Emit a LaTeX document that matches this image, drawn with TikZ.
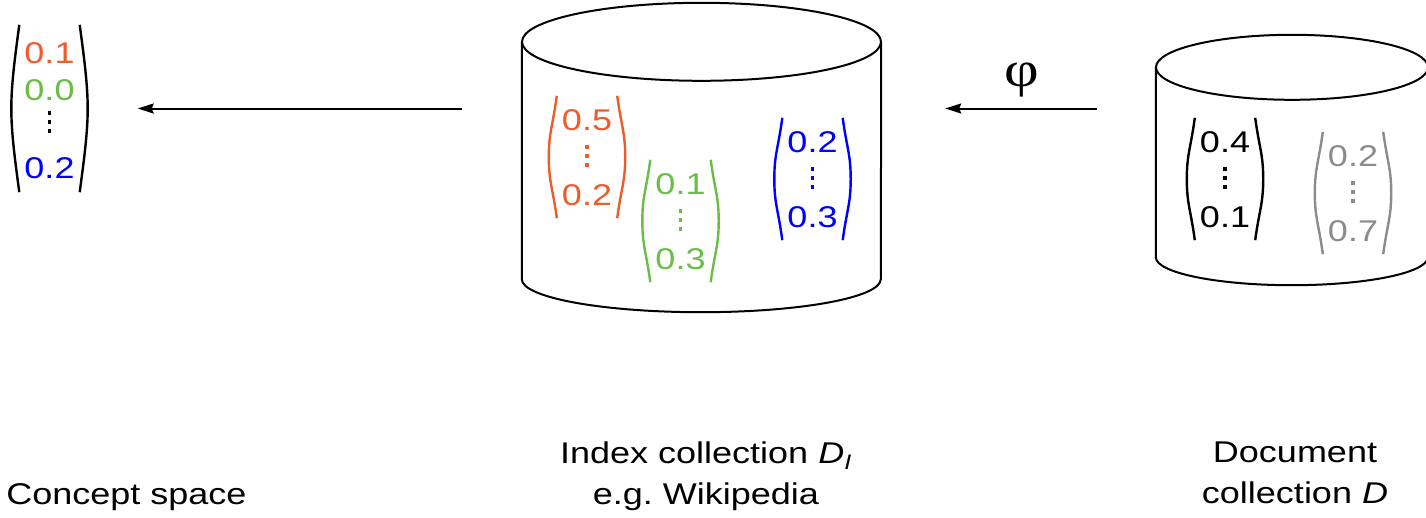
\documentclass[tikz,border=0pt]{standalone}
\usepackage{fontspec}
\setmainfont{Liberation Sans}[FakeStretch=1.2]
\newfontfamily\phifont{Liberation Serif}[FakeStretch=1.2]
\usetikzlibrary{arrows.meta,calc}

\definecolor{vorange}{HTML}{EF5B2B}
\definecolor{vgreen}{HTML}{6ABD45}
\definecolor{vblue}{HTML}{0000FF}
\definecolor{vgray}{HTML}{8C8C8C}

\tikzset{
  lab/.style={font=\fontsize{30}{41}\selectfont, inner sep=0pt, align=center},
  num/.style={font=\fontsize{30}{34}\selectfont, inner sep=0pt},
  vecbox/.style={inner sep=0pt, minimum width=60pt, draw=none},
  brk/.style={line width=2.4pt},
  cyl/.style={line width=2pt},
  conn/.style={line width=2pt, -{Stealth[length=16pt,width=10pt,inset=2pt]}},
  dotcol/.pic={
    \fill (-1.75,-10.75) rectangle (1.75,-7.25);
    \fill (-1.75,-1.75) rectangle (1.75,1.75);
    \fill (-1.75,7.25) rectangle (1.75,10.75);
  }
}

% curved brackets round a vector box
\newcommand\drawbrackets[2]{%
  \draw[brk,#2] (#1.north west) .. controls +(-4,30) and +(0,-25) .. ([xshift=-8pt]#1.west)
    .. controls +(0,25) and +(-4,-30) .. (#1.south west);
  \draw[brk,#2] (#1.north east) .. controls +(4,30) and +(0,-25) .. ([xshift=8pt]#1.east)
    .. controls +(0,25) and +(4,-30) .. (#1.south east);
}

% three-row column vector: name, centre, colour, first entry, last entry
\newcommand\colvec[5]{%
  \node[vecbox, minimum height=122pt] (#1) at (#2) {};
  \node[num, text=#3] (#1-a) at ([yshift=-24pt]#1.north) {#4};
  \pic[color=#3] at ([yshift=-60pt]#1.north) {dotcol};
  \node[num, text=#3] (#1-b) at ([yshift=-99.5pt]#1.north) {#5};
  \drawbrackets{#1}{#3}%
}

\begin{document}
\begin{tikzpicture}[x=1pt, y=-1pt]
\useasboundingbox (0,0) rectangle (1426,517);

% concept vector
\node[vecbox, minimum height=167pt] (lvec) at (49.5,108.5) {};
\node[num, text=vorange] (lvec-a) at ([yshift=-28pt]lvec.north) {0.1};
\node[num, text=vgreen] (lvec-b) at ([yshift=-65pt]lvec.north) {0.0};
\pic[color=black] at ([yshift=-97pt]lvec.north) {dotcol};
\node[num, text=vblue] (lvec-c) at ([yshift=-143pt]lvec.north) {0.2};
\drawbrackets{lvec}{black}

% index collection
\node[inner sep=0pt, minimum width=359pt, minimum height=237pt] (idx) at (701.5,160.5) {};
\draw[cyl] (idx.north west) -- (idx.south west)
  arc[start angle=180, end angle=0, x radius=179.5, y radius=33] -- (idx.north east);
\draw[cyl] (idx.north) ellipse[x radius=179.5, y radius=39];
\colvec{ov}{587,157}{vorange}{0.5}{0.2}
\colvec{gv}{680.5,221}{vgreen}{0.1}{0.3}
\colvec{bv}{812.5,179}{vblue}{0.2}{0.3}

% document collection
\node[inner sep=0pt, minimum width=272pt, minimum height=189.5pt] (doc) at (1292,162.25) {};
\draw[cyl] (doc.north west) -- (doc.south west)
  arc[start angle=180, end angle=0, x radius=136, y radius=28] -- (doc.north east);
\draw[cyl] (doc.north) ellipse[x radius=136, y radius=32.5];
\colvec{kv}{1225,179}{black}{0.4}{0.1}
\colvec{yv}{1353,193}{vgray}{0.2}{0.7}

% mappings
\draw[conn, shorten <=60pt, shorten >=58pt] (idx.west |- lvec.east) -- (lvec.east);
\draw[conn, shorten <=59pt, shorten >=64pt] (doc.west |- lvec.east) --
  node[pos=0.487, above=10pt, inner sep=0pt, font=\phifont\fontsize{50}{54}\selectfont] (phi) {φ}
  (idx.east |- lvec.east);

% captions
\node[lab, anchor=base] (cs) at (126.5,504) {Concept space};
\node[lab, anchor=north] (il) at (706,441.5) {Index collection \textit{D}\textsubscript{\textit{I}}\\e.g.\ Wikipedia};
\node[lab, anchor=north] (dl) at (1295,441.5) {Document\\collection \textit{D}};
\end{tikzpicture}
\end{document}
